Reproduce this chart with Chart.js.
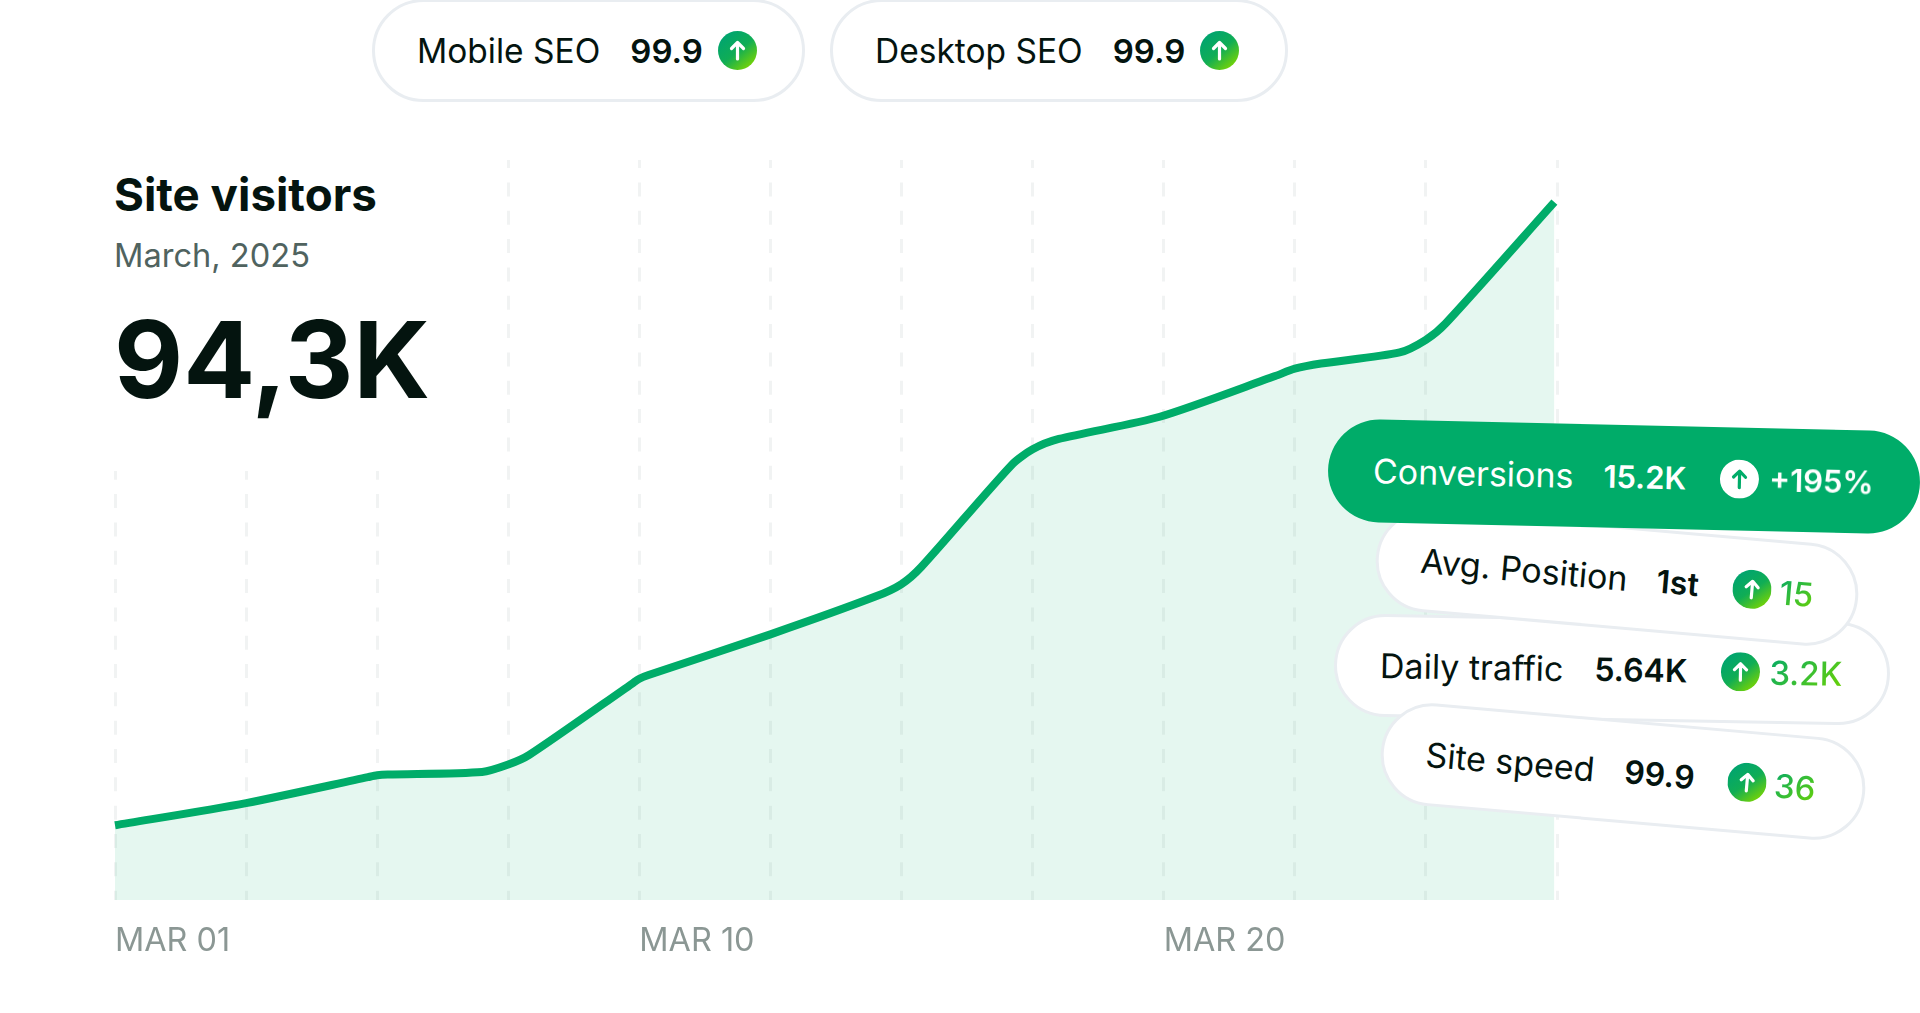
<!DOCTYPE html>
<html lang="en">
<head>
<meta charset="UTF-8" />
<title>Site visitors</title>
<script src="https://cdn.jsdelivr.net/npm/chart.js"></script>
<style>
    body { margin: 0; width: 1920px; height: 1013px; overflow: hidden; background: #fff; font-family: Inter, sans-serif; color: #04140f; position: relative; }
    #chart { position: absolute; left: 0; top: 0; }

    /* hides the top of the first three grid lines behind the heading */
    .heading { position: absolute; left: 100px; top: 150px; width: 300px; height: 321px; background: #fff; }
    .heading div { position: absolute; left: 14px; white-space: nowrap; }
    .title { top: 18px; font-size: 45.7px; font-weight: 700; line-height: 54px; }
    .month { top: 85px; font-size: 32.6px; line-height: 40px; color: #50635f; }
    .total { top: 145px; left: 15px; font-size: 106.5px; font-weight: 700; line-height: 130px; }

    .pill { position: absolute; box-sizing: border-box; height: 103px; border: 3px solid #e9edf1; border-radius: 52px; background: #fff; display: flex; align-items: center; font-size: 34px; white-space: nowrap; }
    .pill b { font-weight: 600; font-size: 32px; }
    .top { font-size: 33.5px; top: -1px; }
    .top b { font-size: 33px; }
    .icon { width: 39px; height: 39px; flex: none; }
    .delta { font-weight: 500; font-size: 33px; background: linear-gradient(135deg, #00a86b, #6fd400); -webkit-background-clip: text; background-clip: text; color: transparent; }
    .conv { background: #00ac69; border: none; color: #fff; }
</style>
</head>
<body>
<canvas id="chart" width="1920" height="1013"></canvas>

<div class="heading">
    <div class="title">Site visitors</div>
    <div class="month">March, 2025</div>
    <div class="total">94,3K</div>
</div>

<svg width="0" height="0" style="position:absolute">
    <defs>
        <linearGradient id="grad" x1="0.15" y1="0.1" x2="0.85" y2="0.95">
            <stop offset="0" stop-color="#00a470" /><stop offset="0.5" stop-color="#10ad55" /><stop offset="1" stop-color="#7cd600" />
        </linearGradient>
        <symbol id="up" viewBox="0 0 39 39">
            <circle cx="19.5" cy="19.5" r="19.5" fill="url(#grad)" />
            <path d="M19.5 28V12M13.5 17.5l6-6 6 6" fill="none" stroke="#fff" stroke-width="3.2" stroke-linecap="round" stroke-linejoin="round" />
        </symbol>
        <symbol id="upWhite" viewBox="0 0 39 39">
            <circle cx="19.5" cy="19.5" r="19.5" fill="#fff" />
            <path d="M19.5 28V12M13.5 17.5l6-6 6 6" fill="none" stroke="#00ac69" stroke-width="3.2" stroke-linecap="round" stroke-linejoin="round" />
        </symbol>
    </defs>
</svg>

<div class="pill top" style="left:372px;width:433px;padding-left:42px">
    <span>Mobile SEO</span><b style="margin-left:30px">99.9</b>
    <svg class="icon" style="margin-left:15px"><use href="#up" /></svg>
</div>
<div class="pill top" style="left:830px;width:458px;padding-left:42px">
    <span>Desktop SEO</span><b style="margin-left:30px">99.9</b>
    <svg class="icon" style="margin-left:15px"><use href="#up" /></svg>
</div>

<div class="pill card" style="left:1334px;top:618px;width:556px;padding-left:43px;transform:rotate(1deg)">
    <span>Daily traffic</span><b style="margin-left:31px">5.64K</b>
    <svg class="icon" style="margin-left:34px"><use href="#up" /></svg>
    <span class="delta" style="margin-left:9px">3.2K</span>
</div>
<div class="pill card" style="left:1375px;top:526px;width:484px;padding-left:42px;transform:rotate(5deg)">
    <span>Avg. Position</span><b style="margin-left:29px">1st</b>
    <svg class="icon" style="margin-left:34px"><use href="#up" /></svg>
    <span class="delta" style="margin-left:8px">15</span>
</div>
<div class="pill card" style="left:1380px;top:720px;width:486px;padding-left:42px;transform:rotate(5deg)">
    <span>Site speed</span><b style="margin-left:30px">99.9</b>
    <svg class="icon" style="margin-left:33px"><use href="#up" /></svg>
    <span class="delta" style="margin-left:8px">36</span>
</div>
<div class="pill card conv" style="left:1328px;top:425px;width:592px;padding-left:45px;transform:rotate(1.3deg)">
    <span>Conversions</span><b style="margin-left:30px;font-size:31px">15.2K</b>
    <svg class="icon" style="margin-left:34px"><use href="#upWhite" /></svg>
    <b style="margin-left:10px;font-size:31px">+195%</b>
</div>

<script>
    // x is counted in grid steps, y in thousands of visitors
    const stepPositions = [0, 1, 1.93, 2, 2.08, 2.8, 3, 3.16, 3.95, 4, 4.07, 5, 5.8, 6, 6.15, 6.84, 7, 7.2, 7.97, 8.85, 9, 9.2, 9.8, 10, 10.15, 10.98];
    const visitors = [10.1, 13.1, 16.6, 16.85, 16.95, 17.3, 18.3, 19.6, 29.3, 29.9, 30.4, 35.9, 41.0, 42.7, 45.0, 58.8, 60.9, 62.3, 65.3, 70.8, 71.8, 72.5, 74.0, 75.7, 77.9, 94.3];
    const tickLabels = ['MAR 01', '', '', '', 'MAR 10', '', '', '', 'MAR 20', '', '', ''];

    new Chart(document.getElementById('chart'), {
        type: 'line',
        data: {
            datasets: [{
                data: stepPositions.map((x, i) => ({ x: x, y: visitors[i] })),
                borderColor: '#00ac69',
                borderWidth: 8,
                borderCapStyle: 'butt',
                borderJoinStyle: 'round',
                backgroundColor: 'rgba(0, 172, 105, 0.1)',
                fill: 'origin',
                pointRadius: 0,
                tension: 0.25,
                clip: false
            }]
        },
        options: {
            responsive: false,
            animation: false,
            layout: { padding: { left: 115, right: 363, top: 160, bottom: 50 } },
            plugins: { legend: { display: false }, tooltip: { enabled: false } },
            scales: {
                x: {
                    type: 'linear',
                    min: 0,
                    max: 11,
                    afterFit: s => { s.height = 63; },
                    grid: { color: 'rgba(0, 40, 30, 0.055)', lineWidth: 3, drawTicks: false },
                    border: { display: false, dash: [14, 14.33], dashOffset: 5.9 },
                    ticks: {
                        stepSize: 1,
                        autoSkip: false,
                        maxRotation: 0,
                        align: 'start',
                        padding: 22,
                        color: '#8b9794',
                        font: { family: 'Inter', size: 32.4 },
                        callback: v => tickLabels[v]
                    }
                },
                y: { display: false, min: 0, max: 100 }
            }
        }
    });
</script>
</body>
</html>
